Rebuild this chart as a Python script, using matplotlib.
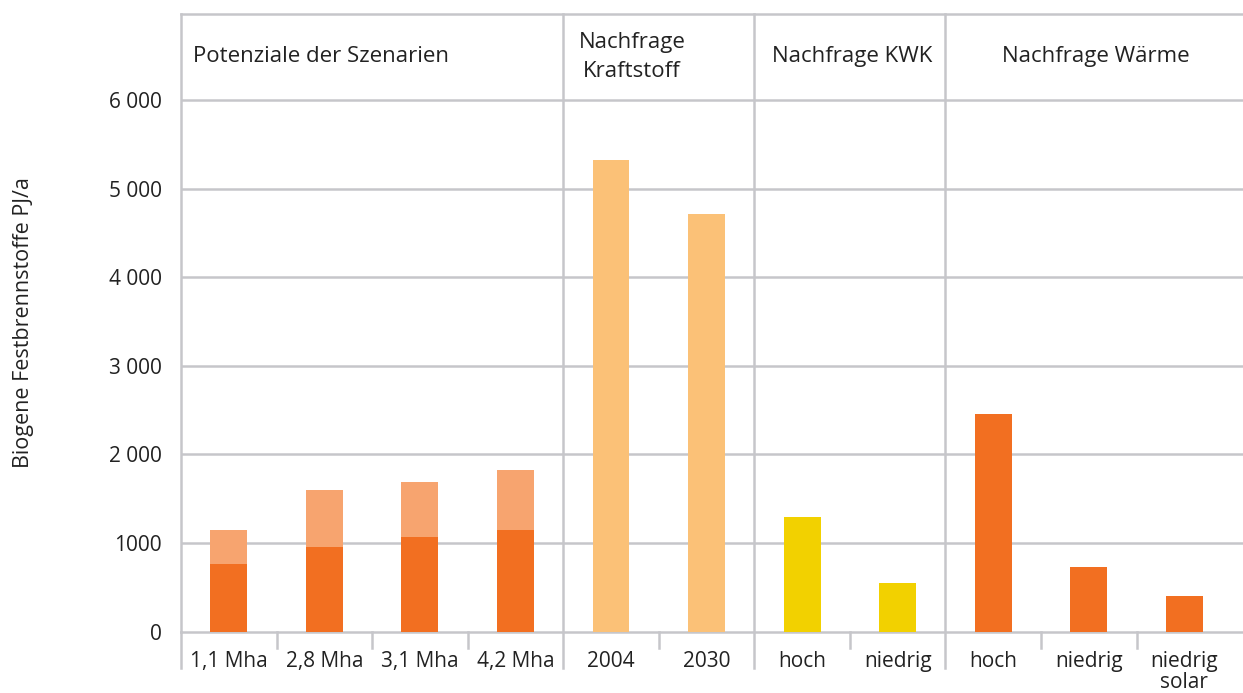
import numpy as np
import matplotlib.pyplot as plt
from matplotlib.transforms import blended_transform_factory

plt.rcParams['font.family'] = ['Open Sans', 'DejaVu Sans']

# data
labels = ['1,1 Mha', '2,8 Mha', '3,1 Mha', '4,2 Mha', '2004', '2030',
          'hoch', 'niedrig', 'hoch', 'niedrig', 'niedrig\nsolar']
potenzial_basis = [760, 960, 1070, 1150]
potenzial_zusatz = [390, 640, 620, 680]
kraftstoff = [5320, 4710]
kwk = [1290, 550]
waerme = [2460, 730, 400]
gruppen = ['Potenziale der Szenarien', 'Nachfrage\nKraftstoff', 'Nachfrage KWK', 'Nachfrage Wärme']
yticks = [0, 1000, 2000, 3000, 4000, 5000, 6000]
yticklabels = ['0', '1000', '2 000', '3 000', '4 000', '5 000', '6 000']

c_dark = '#F26F21'
c_light = '#F7A46F'
c_peach = '#FBC177'
c_yellow = '#F2D100'
grid = '#C6C6CA'
txt = '#222222'

fig = plt.figure(figsize=(12.43, 6.93), dpi=100)
ax = fig.add_axes([181/1243, 1-631.7/693, 1.0 - 181/1243 + 0.002, (631.7-14)/693])

w = 0.387
x = np.arange(len(labels))
ax.bar(x[0:4], potenzial_basis, w, color=c_dark, zorder=3)
ax.bar(x[0:4], potenzial_zusatz, w, bottom=potenzial_basis, color=c_light, zorder=3)
ax.bar(x[4:6], kraftstoff, w, color=c_peach, zorder=3)
ax.bar(x[6:8], kwk, w, color=c_yellow, zorder=3)
ax.bar(x[8:11], waerme, w, color=c_dark, zorder=3)

ax.set_xlim(-0.5, 10.64)
ax.set_ylim(0, 6970)

for s in ['left', 'top', 'bottom']:
    ax.spines[s].set_color(grid)
    ax.spines[s].set_linewidth(1.8)
ax.spines['right'].set_visible(False)

# horizontal gridlines
for y in yticks[1:]:
    ax.axhline(y, color=grid, lw=1.8, zorder=1)

# vertical group separators, extended below the axis
trans = blended_transform_factory(ax.transData, ax.transAxes)
for xs in [3.5, 5.5, 7.5]:
    ax.plot([xs, xs], [-0.059, 1], color=grid, lw=1.8, transform=trans, clip_on=False, zorder=1)
ax.plot([-0.5, -0.5], [-0.059, 0], color=grid, lw=1.8, transform=trans, clip_on=False)
for xs in [0.5, 1.5, 2.5, 4.5, 6.5, 8.5, 9.5]:
    ax.plot([xs, xs], [-0.026, 0], color=grid, lw=1.8, transform=trans, clip_on=False)

ax.set_yticks(yticks)
ax.set_yticklabels(yticklabels, fontsize=15, color=txt)
ax.set_xticks(x)
ax.set_xticklabels(labels, fontsize=15, color=txt, linespacing=1.0)
ax.tick_params(axis='y', length=0, pad=14)
ax.tick_params(axis='x', length=0, pad=14)
for t in ax.get_xticklabels():
    t.set_verticalalignment('top')

ax.set_ylabel('Biogene Festbrennstoffe PJ/a', fontsize=15.5, color=txt)
ax.yaxis.set_label_coords(-0.138, 0.5)

# group headers
yh = 6490
ax.text(-0.375, yh, gruppen[0], fontsize=16, color=txt, ha='left', va='center')
ax.text(4.22, yh, gruppen[1], fontsize=16, color=txt, ha='center', va='center', linespacing=1.5)
ax.text(6.52, yh, gruppen[2], fontsize=16, color=txt, ha='center', va='center')
ax.text(9.07, yh, gruppen[3], fontsize=16, color=txt, ha='center', va='center')

plt.savefig('out.png', dpi=100)
plt.close()
